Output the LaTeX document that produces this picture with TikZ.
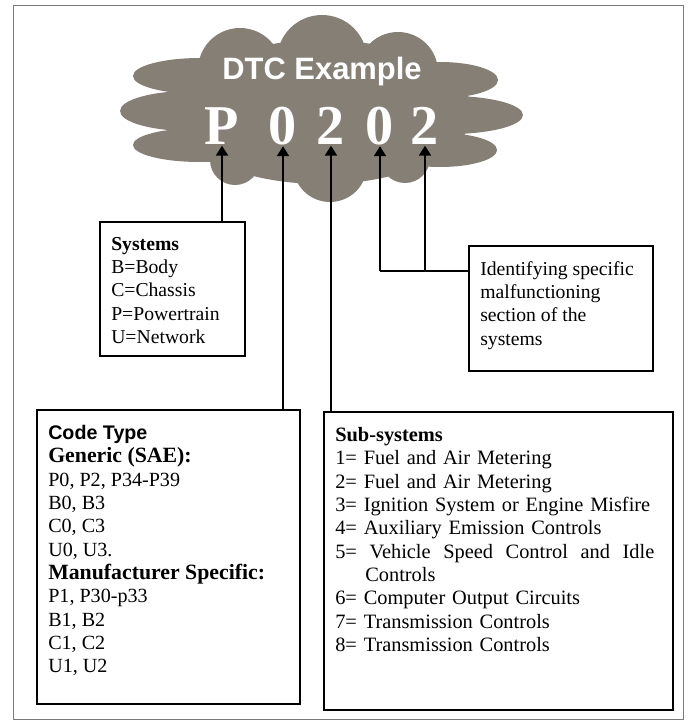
\documentclass[tikz,border=0pt]{standalone}
\usepackage{fontspec}
\setmainfont{Liberation Serif}
\newfontfamily\headsans{Liberation Sans}
\usetikzlibrary{arrows.meta, calc, positioning}
\definecolor{CloudGrey}{HTML}{857F76}
\definecolor{FrameGrey}{HTML}{7A7A7A}
\newcommand{\codehead}[1]{{\fontsize{15.5}{16.6}\selectfont\bfseries #1}}
\tikzset{
  box/.style={draw=black, line width=1.1pt, anchor=north west, inner sep=0pt},
  boxtext/.style={anchor=north west, inner sep=0pt, align=left, xshift=0.3cm, yshift=-0.4cm,
                  font=\fontsize{14}{16.6}\selectfont},
  link/.style={black, line width=1.2pt},
  arr/.style={link, -{Triangle[length=7pt, width=8.5pt]}},
  digit/.style={anchor=base, inner sep=1pt, text=white, font=\fontsize{40}{40}\selectfont\bfseries},
}

\begin{document}
\begin{tikzpicture}
  \useasboundingbox (0,0) rectangle (17.175,-18.075);
  \draw[FrameGrey, line width=0.6pt] (0.325,-0.125) rectangle (17.075,-17.975);
  % Cloud: body, top bumps, side lobes, bottom bumps -- one fill
  \fill[CloudGrey] (8.05,-2.8) ellipse [x radius=3.75, y radius=1.8]
    (6.0,-1.75) circle [radius=1.05]  (8.05,-1.5) circle [radius=1.125]  (9.95,-1.8) circle [radius=1.0]
    (5.0,-1.9) ellipse [x radius=1.675, y radius=0.45]
    (4.75,-2.775) ellipse [x radius=1.75, y radius=0.5]
    (5.0,-3.625) ellipse [x radius=1.675, y radius=0.425]
    (11.0,-2.0) ellipse [x radius=1.45, y radius=0.45]
    (11.25,-2.875) ellipse [x radius=1.825, y radius=0.475]
    (11.0,-3.75) ellipse [x radius=1.425, y radius=0.425]
    (5.875,-4.0) circle [radius=0.625]  (8.25,-4.125) circle [radius=0.925]  (10.125,-3.95) circle [radius=0.625];
  \node[font=\headsans\bfseries\fontsize{22}{24}\selectfont, text=white, anchor=base] (title) at (8.05,-2.0) {DTC Example};
  % Code letters
  \node[digit] (p1) at (5.55,-3.6)   {P};
  \node[digit] (p2) at (7.075,-3.6)  {0};
  \node[digit] (p3) at (8.275,-3.6)  {2};
  \node[digit] (p4) at (9.5,-3.6)    {0};
  \node[digit] (p5) at (10.625,-3.6) {2};
  % Boxes
  \node[box, minimum width=3.625cm, minimum height=3.35cm] (sys) at (2.475,-5.525) {};
  \node[boxtext] (systxt) at (sys.north west)
    {\textbf{Systems}\\B=Body\\C=Chassis\\P=Powertrain\\U=Network};
  \node[box, minimum width=4.6cm, minimum height=3.125cm] (ident) at (11.7,-6.125) {};
  \node[boxtext] (identtxt) at (ident.north west)
    {Identifying specific\\malfunctioning\\section of the\\systems};
  \node[box, minimum width=6.575cm, minimum height=7.35cm] (code) at (0.9,-10.225) {};
  \node[boxtext, font=\fontsize{14.3}{16.6}\selectfont] (codetxt) at (code.north west)
    {{\headsans\bfseries\fontsize{14}{16.6}\selectfont Code Type}\\\codehead{Generic (SAE):}\\P0, P2, P34-P39\\B0, B3\\C0, C3\\U0, U3.\\
     \codehead{Manufacturer Specific:}\\P1, P30-p33\\B1, B2\\C1, C2\\U1, U2};
  \node[box, minimum width=8.725cm, minimum height=7.45cm] (sub) at (8.075,-10.275) {};
  \node[boxtext, text width=8.3cm, font=\fontsize{14.5}{16.6}\selectfont] (subtxt) at (sub.north west)
    {\textbf{Sub-systems}\\1= Fuel and Air Metering\\2= Fuel and Air Metering\\3= Ignition System or Engine Misfire\\
     4= Auxiliary Emission Controls\\\makebox[7.975cm]{5=\hfill Vehicle\hfill Speed\hfill Control\hfill and\hfill Idle}\\\hspace*{0.75cm}Controls\\
     6= Computer Output Circuits\\7= Transmission Controls\\8= Transmission Controls};
  % Connectors
  \draw[arr] (sys.north -| p1) -- (p1.south);
  \draw[arr] (code.north -| p2) -- (p2.south);
  \draw[arr] (sub.north -| p3) -- (p3.south);
  \coordinate (jn) at (p4 |- 0,-6.775);
  \draw[link] (jn) -- (jn -| ident.west);
  \draw[arr] (jn) -- (p4.south);
  \draw[arr] (jn -| p5) -- (p5.south);
\end{tikzpicture}
\end{document}
